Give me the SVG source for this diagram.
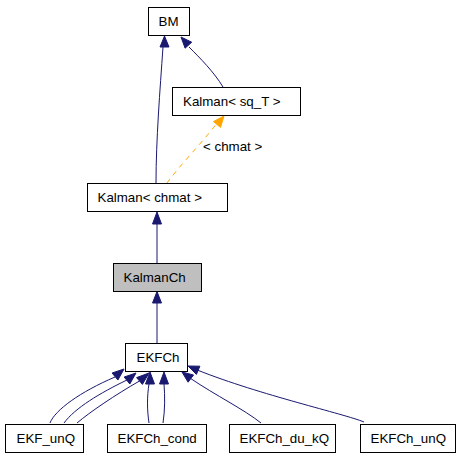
<svg xmlns="http://www.w3.org/2000/svg" width="459" height="456" viewBox="0 0 459 456">
<style>
.box{fill:#ffffff;stroke:#000000;stroke-width:1}
.cur{fill:#bfbfbf;stroke:#000000;stroke-width:1}
.lbl{font-family:"Liberation Sans",Arial,sans-serif;font-size:13.33px;fill:#000000}
.e{fill:none;stroke:#191970;stroke-width:1}
.h{fill:#191970;stroke:#191970;stroke-width:1}
.eo{fill:none;stroke:#ffa500;stroke-width:1;stroke-dasharray:5,5}
.ho{fill:#ffa500;stroke:#ffa500;stroke-width:1}
</style>
<rect width="459" height="456" fill="#ffffff"/>
<g id="connectors">
  <path class="e" d="M156,183 C156,140 160,90 163,47"/>
  <polygon class="h" points="164.5,36 160,47 169,47"/>
  <path class="e" d="M223,87 C214,72 200,58 189,47"/>
  <polygon class="h" points="181,37 191.7,42.2 185.1,48.2"/>
  <path class="eo" d="M167,183 C180,165 200,145 216,124.5"/>
  <polygon class="ho" points="224,116 213.5,121.6 220.5,127.4"/>
  <text class="lbl" x="203" y="151">&lt; chmat &gt;</text>
  <path class="e" d="M157,263 L157,224"/>
  <polygon class="h" points="157,212 152.5,224 161.5,224"/>
  <path class="e" d="M157,343 L157,303"/>
  <polygon class="h" points="157,291.5 152.5,303 161.5,303"/>
  <path class="e" d="M50,423 C55,410 80,392 115,377"/>
  <polygon class="h" points="124,369 112.1,373 117.9,380"/>
  <path class="e" d="M64,423 C75,408 100,393 127,380"/>
  <polygon class="h" points="136,373 124.2,377 129.8,384"/>
  <path class="e" d="M77,423 C90,412 115,395 139.5,381"/>
  <polygon class="h" points="149,373 136.6,377.6 142.4,384.4"/>
  <path class="e" d="M149,423 C147,410 147,396 149,384"/>
  <polygon class="h" points="150,372 145.5,384 154.5,384"/>
  <path class="e" d="M163,423 C165,410 165,396 164,384"/>
  <polygon class="h" points="164,372 159.5,384 168.5,384"/>
  <path class="e" d="M261,423 C245,410 215,395 190.8,378.6"/>
  <polygon class="h" points="182,372 193.5,375 188.1,382.2"/>
  <path class="e" d="M364,422 C345,414 260,395 198,370.3"/>
  <polygon class="h" points="188,366 199.9,366.2 196.4,374.4"/>
</g>
<g id="BM">
  <rect class="box" x="148.5" y="7.5" width="41" height="28"/>
  <text class="lbl" x="158.5" y="25.5">BM</text>
</g>
<g id="Kalman_sq_T">
  <rect class="box" x="172.5" y="87.5" width="128" height="28"/>
  <text class="lbl" x="183" y="105.5">Kalman&lt; sq_T &gt;</text>
</g>
<g id="Kalman_chmat">
  <rect class="box" x="87.5" y="183.5" width="140" height="28"/>
  <text class="lbl" x="97.5" y="201.5">Kalman&lt; chmat &gt;</text>
</g>
<g id="KalmanCh">
  <rect class="cur" x="113.5" y="263.5" width="88" height="28"/>
  <text class="lbl" x="123.5" y="281.5">KalmanCh</text>
</g>
<g id="EKFCh">
  <rect class="box" x="125.5" y="343.5" width="62" height="28"/>
  <text class="lbl" x="136.5" y="361.5">EKFCh</text>
</g>
<g id="EKF_unQ">
  <rect class="box" x="5.5" y="424.5" width="78" height="28"/>
  <text class="lbl" x="16.5" y="442.5">EKF_unQ</text>
</g>
<g id="EKFCh_cond">
  <rect class="box" x="107.5" y="424.5" width="99" height="28"/>
  <text class="lbl" x="117.5" y="442.5">EKFCh_cond</text>
</g>
<g id="EKFCh_du_kQ">
  <rect class="box" x="229.5" y="424.5" width="106" height="28"/>
  <text class="lbl" x="239.5" y="442.5">EKFCh_du_kQ</text>
</g>
<g id="EKFCh_unQ">
  <rect class="box" x="360.5" y="424.5" width="95" height="28"/>
  <text class="lbl" x="370.5" y="442.5">EKFCh_unQ</text>
</g>
</svg>
